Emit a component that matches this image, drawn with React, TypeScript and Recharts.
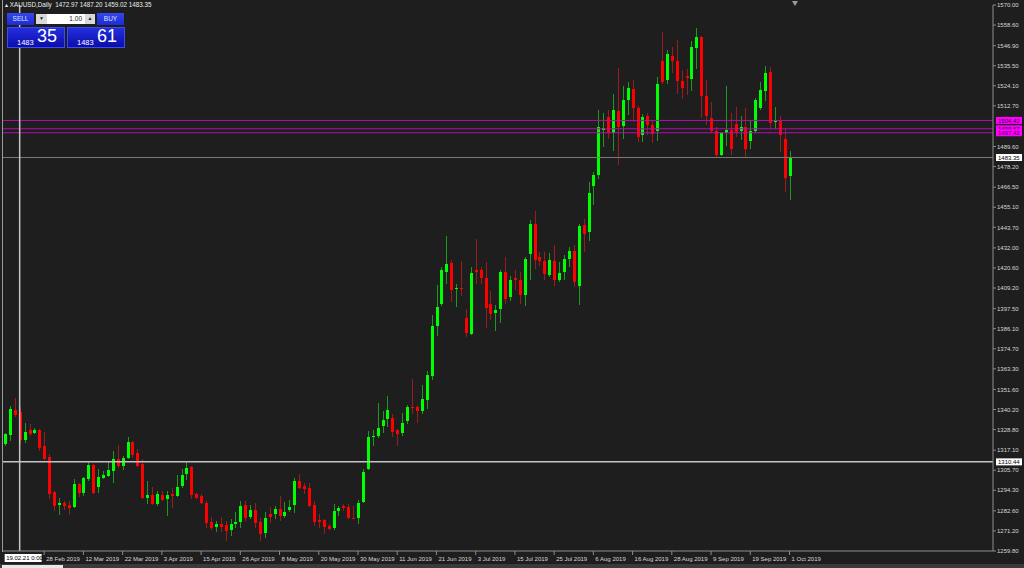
import React from 'react'
import { ComposedChart, Bar, XAxis, YAxis, ReferenceLine } from 'recharts'

// XAUUSD daily, 18 Feb 2019 .. 1 Oct 2019
const opens = [
  1320.5, 1325.6, 1339.9, 1338.5, 1322.8, 1328.7, 1326.6, 1328.7, 1319.2, 1313.3,
  1293.6, 1286.0, 1287.3, 1285.8, 1285.0, 1297.6, 1293.0, 1300.6, 1308.4, 1295.9,
  1301.2, 1302.5, 1305.0, 1312.0, 1308.2, 1312.5, 1321.5, 1315.4, 1309.1, 1289.8,
  1291.7, 1286.4, 1291.7, 1289.2, 1292.1, 1291.1, 1296.8, 1303.4, 1307.4, 1292.1,
  1291.1, 1287.3, 1276.3, 1273.5, 1275.4, 1274.6, 1271.6, 1275.0, 1276.1, 1286.0,
  1279.1, 1283.1, 1276.5, 1269.9, 1280.7, 1280.7, 1283.5, 1279.7, 1283.1, 1286.0,
  1299.6, 1296.8, 1295.8, 1286.0, 1277.6, 1277.3, 1274.0, 1272.7, 1282.6, 1285.4,
  1284.8, 1278.8, 1278.8, 1287.7, 1306.3, 1324.3, 1324.9, 1330.6, 1334.7, 1335.3,
  1328.5, 1326.6, 1333.4, 1341.8, 1341.4, 1339.5, 1345.7, 1359.4, 1387.5, 1400.2,
  1418.2, 1423.5, 1408.8, 1409.3, 1392.2, 1383.1, 1419.2, 1419.2, 1415.0, 1400.2,
  1394.9, 1397.3, 1418.4, 1404.0, 1415.0, 1414.0, 1405.5, 1428.6, 1445.7, 1426.8,
  1424.3, 1416.7, 1424.3, 1413.5, 1418.2, 1425.8, 1430.5, 1410.1, 1445.2, 1441.0,
  1467.2, 1473.2, 1499.0, 1506.4, 1497.0, 1509.7, 1501.3, 1515.9, 1522.2, 1511.2,
  1496.4, 1507.0, 1502.1, 1498.3, 1538.1, 1527.3, 1541.1, 1538.3, 1526.7, 1529.6,
  1528.2, 1545.7, 1551.6, 1518.4, 1505.9, 1498.3, 1485.0, 1497.0, 1498.8, 1502.3,
  1498.3, 1500.7, 1492.6, 1498.3, 1511.6, 1521.0, 1531.7, 1503.6, 1504.5, 1494.1,
  1472.97,
]
const highs = [
  1327.1, 1342.0, 1346.7, 1341.4, 1332.7, 1331.9, 1329.6, 1329.0, 1327.2, 1314.8,
  1294.0, 1289.8, 1288.3, 1288.3, 1300.6, 1298.7, 1301.9, 1311.0, 1309.1, 1306.3,
  1305.3, 1310.6, 1316.7, 1320.1, 1313.9, 1324.3, 1322.4, 1317.7, 1312.0, 1299.6,
  1296.2, 1294.0, 1294.0, 1294.0, 1295.8, 1303.1, 1306.3, 1310.1, 1308.2, 1293.0,
  1292.0, 1288.3, 1279.1, 1276.9, 1279.1, 1276.9, 1277.8, 1282.2, 1288.3, 1288.3,
  1286.0, 1287.3, 1278.8, 1282.2, 1284.8, 1285.4, 1291.1, 1287.9, 1288.8, 1301.2,
  1303.4, 1298.7, 1298.7, 1288.3, 1280.7, 1277.8, 1275.0, 1286.7, 1285.4, 1286.7,
  1286.4, 1285.4, 1288.6, 1306.3, 1327.7, 1328.5, 1343.7, 1339.5, 1348.0, 1337.6,
  1329.0, 1338.2, 1342.7, 1357.5, 1342.9, 1354.3, 1361.9, 1393.6, 1411.2, 1421.1,
  1438.7, 1424.9, 1411.6, 1424.3, 1397.3, 1421.1, 1437.2, 1421.4, 1423.9, 1407.4,
  1399.8, 1419.2, 1427.1, 1416.3, 1419.2, 1418.2, 1427.1, 1447.6, 1452.7, 1429.6,
  1429.6, 1429.0, 1433.4, 1423.9, 1427.7, 1432.4, 1433.8, 1445.7, 1448.6, 1469.4,
  1475.1, 1510.2, 1508.9, 1510.2, 1519.7, 1534.3, 1523.9, 1526.4, 1527.3, 1512.7,
  1507.8, 1508.9, 1504.5, 1529.2, 1554.8, 1544.4, 1546.3, 1550.1, 1533.0, 1533.6,
  1549.5, 1556.7, 1552.5, 1527.3, 1515.0, 1500.7, 1497.9, 1523.9, 1508.9, 1512.1,
  1507.0, 1511.2, 1504.0, 1516.9, 1526.4, 1535.5, 1534.9, 1512.1, 1507.0, 1499.8,
  1487.2,
]
const lows = [
  1319.6, 1322.4, 1335.7, 1320.5, 1321.4, 1325.3, 1326.2, 1316.7, 1311.6, 1289.2,
  1282.6, 1280.3, 1283.0, 1280.1, 1284.5, 1290.2, 1291.1, 1299.6, 1292.1, 1293.0,
  1300.6, 1301.9, 1298.3, 1307.2, 1305.9, 1312.0, 1312.9, 1307.6, 1289.2, 1286.4,
  1286.0, 1285.4, 1288.3, 1279.7, 1284.5, 1290.5, 1295.8, 1300.0, 1289.2, 1289.2,
  1286.4, 1272.7, 1271.6, 1270.8, 1270.8, 1265.5, 1268.3, 1272.7, 1272.7, 1276.9,
  1277.8, 1272.7, 1265.5, 1267.4, 1275.9, 1277.8, 1276.9, 1278.4, 1282.2, 1281.6,
  1294.9, 1292.1, 1284.8, 1274.0, 1272.7, 1269.3, 1271.6, 1271.6, 1279.7, 1282.6,
  1277.8, 1277.8, 1275.0, 1287.3, 1305.7, 1319.2, 1323.9, 1326.6, 1330.0, 1324.3,
  1319.6, 1325.3, 1331.9, 1337.6, 1332.3, 1337.6, 1340.4, 1356.9, 1381.8, 1399.2,
  1411.6, 1401.1, 1398.3, 1404.9, 1381.2, 1382.7, 1411.6, 1411.6, 1386.5, 1391.1,
  1385.0, 1389.2, 1400.2, 1402.1, 1407.8, 1400.2, 1399.2, 1413.5, 1420.1, 1422.0,
  1413.5, 1415.4, 1410.1, 1412.5, 1413.9, 1421.1, 1409.7, 1399.8, 1429.6, 1435.9,
  1456.2, 1471.3, 1489.4, 1494.1, 1486.9, 1479.3, 1493.7, 1507.4, 1503.6, 1492.2,
  1492.2, 1496.0, 1491.8, 1492.6, 1524.9, 1525.0, 1531.1, 1519.7, 1516.5, 1518.8,
  1521.0, 1533.6, 1505.9, 1501.7, 1497.5, 1483.7, 1484.2, 1489.9, 1485.0, 1495.0,
  1493.1, 1483.1, 1488.4, 1497.5, 1510.2, 1515.3, 1499.8, 1499.8, 1486.5, 1463.8,
  1459.02,
]
const closes = [
  1326.2, 1340.4, 1337.2, 1322.8, 1327.5, 1326.2, 1328.5, 1318.6, 1312.0, 1292.4,
  1285.4, 1287.3, 1285.2, 1284.5, 1298.1, 1292.6, 1301.2, 1308.4, 1293.0, 1301.9,
  1303.1, 1305.9, 1312.0, 1308.2, 1312.9, 1321.5, 1314.4, 1308.2, 1289.8, 1291.7,
  1286.4, 1292.1, 1288.6, 1291.7, 1291.1, 1296.4, 1303.1, 1307.2, 1291.6, 1290.0,
  1286.9, 1275.9, 1272.7, 1275.0, 1273.5, 1271.2, 1275.0, 1276.5, 1285.2, 1278.8,
  1283.1, 1275.9, 1269.3, 1278.4, 1279.1, 1283.5, 1279.7, 1282.2, 1285.0, 1299.3,
  1295.8, 1295.3, 1285.4, 1276.5, 1276.5, 1273.5, 1272.1, 1282.6, 1284.1, 1284.1,
  1278.4, 1278.4, 1287.3, 1304.9, 1324.3, 1324.9, 1329.4, 1334.4, 1339.9, 1327.2,
  1326.2, 1332.5, 1341.4, 1340.8, 1339.1, 1345.9, 1360.0, 1387.9, 1398.7, 1419.2,
  1422.9, 1408.2, 1409.3, 1408.5, 1383.5, 1417.8, 1418.2, 1415.0, 1397.9, 1394.5,
  1397.0, 1418.4, 1403.0, 1414.0, 1413.5, 1405.5, 1425.8, 1445.3, 1424.9, 1424.3,
  1416.9, 1424.9, 1413.9, 1417.8, 1425.8, 1430.5, 1412.5, 1444.2, 1439.7, 1463.2,
  1473.6, 1500.7, 1500.2, 1497.0, 1510.2, 1500.7, 1515.9, 1522.9, 1511.6, 1495.0,
  1506.4, 1502.1, 1496.9, 1525.4, 1526.4, 1541.9, 1538.3, 1526.9, 1522.6, 1528.6,
  1546.3, 1552.0, 1518.4, 1507.0, 1498.3, 1484.6, 1497.0, 1498.8, 1488.0, 1497.9,
  1500.7, 1488.0, 1498.3, 1515.9, 1521.6, 1531.1, 1503.2, 1504.2, 1496.4, 1471.7,
  1483.35,
]

const dateTicks = [
  '28 Feb 2019', '12 Mar 2019', '22 Mar 2019', '3 Apr 2019', '15 Apr 2019',
  '26 Apr 2019', '8 May 2019', '20 May 2019', '30 May 2019', '11 Jun 2019',
  '21 Jun 2019', '3 Jul 2019', '15 Jul 2019', '25 Jul 2019', '6 Aug 2019',
  '16 Aug 2019', '28 Aug 2019', '9 Sep 2019', '19 Sep 2019', '1 Oct 2019',
]
const dateTickIdx = [8, 16, 24, 32, 40, 48, 56, 64, 72, 80, 88, 96, 104, 112, 120, 128, 136, 144, 152, 160]

const priceTicks = [
  1570.0, 1558.6, 1546.9, 1535.5, 1524.1, 1512.7, 1489.6, 1478.2, 1466.5, 1455.1,
  1443.7, 1432.0, 1420.6, 1409.2, 1397.5, 1386.1, 1374.7, 1363.3, 1351.6, 1340.2,
  1328.8, 1317.1, 1305.7, 1294.3, 1282.6, 1271.2, 1259.8,
]

const emptyBars = 41 // chart shift space on the right

const data = Array.from({ length: opens.length + emptyBars }, (_, i) =>
  i < opens.length
    ? { i, range: [lows[i], highs[i]], o: opens[i], h: highs[i], l: lows[i], c: closes[i] }
    : { i, range: null }
)

const BG = '#1e1e1e'
const AXIS = '#8c8c8c'
const TXT = '#d6d6d6'
const FONT = '"Liberation Sans", Arial, sans-serif'

function Candle(props: any) {
  const { x, y, width, height, payload } = props
  if (!payload || payload.o == null) return <g />
  const { o, h, l, c } = payload
  const top0 = Math.min(y, y + height)
  const span = Math.abs(height)
  const py = (v: number) => top0 + ((h - v) / (h - l || 1)) * span
  const cx = Math.round(x + width / 2) + 0.5
  const up = c >= o
  const bTop = py(Math.max(o, c))
  const bBot = py(Math.min(o, c))
  return (
    <g shapeRendering="crispEdges">
      <line x1={cx} x2={cx} y1={top0} y2={top0 + span} stroke={up ? '#1c9a1c' : '#9a1c1c'} strokeWidth={1} />
      <rect x={cx - 1.5} y={bTop} width={3} height={Math.max(1, bBot - bTop)} fill={up ? '#00ff00' : '#ff0000'} />
    </g>
  )
}

function PriceTick({ x, y, payload }: any) {
  return (
    <g>
      <line x1={x} x2={x + 3} y1={y} y2={y} stroke={AXIS} />
      <text x={x + 4} y={y} dy={2.2} fontSize={6} fill={TXT} fontFamily={FONT}>
        {Number(payload.value).toFixed(2)}
      </text>
    </g>
  )
}

function DateTick({ x, y, payload }: any) {
  const k = dateTickIdx.indexOf(payload.value)
  if (k < 0) return <g />
  return (
    <g>
      <line x1={x} x2={x} y1={y} y2={y + 4} stroke={AXIS} />
      <text x={x + 2} y={y + 10} fontSize={6} fill={TXT} fontFamily={FONT}>
        {dateTicks[k]}
      </text>
    </g>
  )
}

function PriceTag({ viewBox, text, bg, color }: any) {
  if (!viewBox) return null
  const x = viewBox.x + viewBox.width + 3
  const y = viewBox.y
  return (
    <g>
      <rect x={x} y={y - 3.5} width={26} height={7} fill={bg} />
      <text x={x + 2} y={y} dy={2.2} fontSize={6} fill={color} fontFamily={FONT}>
        {text}
      </text>
    </g>
  )
}

function TimeTag({ viewBox, text }: any) {
  if (!viewBox) return null
  const x = Math.max(3, viewBox.x - 15)
  const y = viewBox.y + viewBox.height + 3
  return (
    <g>
      <rect x={x} y={y} width={37} height={8} fill="#ffffff" />
      <text x={x + 1.5} y={y + 6} fontSize={6} fill="#000" fontFamily={FONT}>
        {text}
      </text>
    </g>
  )
}

const btn: React.CSSProperties = {
  position: 'absolute',
  top: 13,
  height: 12,
  width: 27,
  background: 'linear-gradient(#3446ec, #1d2cd4)',
  color: '#dfe6ff',
  fontSize: 6.5,
  lineHeight: '12px',
  textAlign: 'center',
  fontFamily: FONT,
}

const bigBox: React.CSSProperties = {
  position: 'absolute',
  top: 27,
  height: 21,
  width: 58,
  background: 'linear-gradient(#2430e2, #0b0ba6)',
  boxShadow: 'inset 0 0 0 1px #3d4df0',
  color: '#ffffff',
  fontFamily: FONT,
}

export default function App() {
  return (
    <div style={{ position: 'relative', width: 1024, height: 568, background: BG, overflow: 'hidden' }}>
      <style>{'body{margin:0;background:#1e1e1e}'}</style>
      <ComposedChart
        width={1024}
        height={568}
        data={data}
        margin={{ top: 5, right: 0, bottom: 0, left: 2.5 }}
        barCategoryGap={0}
      >
        <XAxis
          dataKey="i"
          type="category"
          ticks={dateTickIdx}
          interval={0}
          height={17}
          tickSize={0}
          tickMargin={0}
          tickLine={false}
          axisLine={{ stroke: AXIS }}
          tick={<DateTick />}
        />
        <YAxis
          orientation="right"
          domain={[1259.8, 1570]}
          ticks={priceTicks}
          interval={0}
          width={31}
          tickSize={0}
          tickMargin={0}
          tickLine={false}
          allowDataOverflow
          axisLine={{ stroke: AXIS }}
          tick={<PriceTick />}
        />
        <Bar dataKey="range" barSize={3} shape={(p: any) => <Candle {...p} />} isAnimationActive={false} />
        <ReferenceLine y={1504.42} stroke="#b010b0" label={<PriceTag text="1504.42" bg="#ff00ff" color="#3a003a" />} />
        <ReferenceLine y={1499.67} stroke="#b010b0" label={<PriceTag text="1499.67" bg="#ff00ff" color="#3a003a" />} />
        <ReferenceLine y={1497.42} stroke="#b010b0" label={<PriceTag text="1497.42" bg="#ff00ff" color="#3a003a" />} />
        <ReferenceLine y={1483.35} stroke="#7a7a7a" label={<PriceTag text="1483.35" bg="#ffffff" color="#000000" />} />
        <ReferenceLine y={1310.44} stroke="#c4c4c4" strokeWidth={1.5} label={<PriceTag text="1310.44" bg="#ffffff" color="#000000" />} />
        <ReferenceLine x={3} stroke="#c4c4c4" strokeWidth={1.5} label={<TimeTag text="19.02.21 0:00" />} />
      </ComposedChart>

      {/* left frame line */}
      <div style={{ position: 'absolute', left: 2, top: 0, width: 1, height: 552, background: '#9a9a9a' }} />
      {/* chart shift marker */}
      <div
        style={{
          position: 'absolute', left: 792, top: 1, width: 0, height: 0,
          borderLeft: '3px solid transparent', borderRight: '3px solid transparent', borderTop: '5px solid #9a9a9a',
        }}
      />
      {/* bottom tab strip */}
      <div style={{ position: 'absolute', left: 0, top: 564, width: 1024, height: 4, background: '#3a3a3a' }} />
      <div style={{ position: 'absolute', left: 2, top: 565, width: 61, height: 3, background: '#e8e8e8' }} />

      {/* symbol header */}
      <div style={{ position: 'absolute', left: 5, top: 1, fontSize: 6.3, color: '#ececec', fontFamily: FONT, whiteSpace: 'pre' }}>
        {'\u25B4 XAUUSD,Daily  1472.97 1487.20 1459.02 1483.35'}
      </div>

      {/* one click trading panel */}
      <div style={{ ...btn, left: 7 }}>SELL</div>
      <div style={{ position: 'absolute', left: 36, top: 14, width: 11, height: 10, background: '#d9d9d9', fontSize: 5, lineHeight: '10px', textAlign: 'center', color: '#222' }}>▼</div>
      <div style={{ position: 'absolute', left: 47, top: 14, width: 38, height: 10, background: '#ffffff', fontSize: 6.5, lineHeight: '10px', textAlign: 'right', color: '#222', fontFamily: FONT, boxSizing: 'border-box', paddingRight: 3 }}>1.00</div>
      <div style={{ position: 'absolute', left: 85, top: 14, width: 10, height: 10, background: '#d9d9d9', fontSize: 5, lineHeight: '10px', textAlign: 'center', color: '#222' }}>▲</div>
      <div style={{ ...btn, left: 97 }}>BUY</div>

      <div style={{ ...bigBox, left: 7 }}>
        <span style={{ position: 'absolute', left: 10, top: 11, fontSize: 7.5 }}>1483</span>
        <span style={{ position: 'absolute', left: 30, top: -1, fontSize: 18 }}>35</span>
      </div>
      <div style={{ ...bigBox, left: 67 }}>
        <span style={{ position: 'absolute', left: 10, top: 11, fontSize: 7.5 }}>1483</span>
        <span style={{ position: 'absolute', left: 30, top: -1, fontSize: 18 }}>61</span>
      </div>
    </div>
  )
}
